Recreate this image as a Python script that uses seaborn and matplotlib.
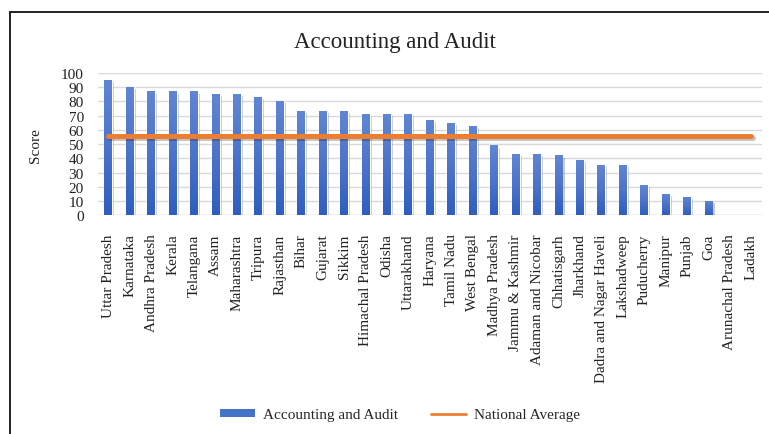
import matplotlib
matplotlib.use('Agg')
import matplotlib.pyplot as plt
import matplotlib.patheffects as pe
from matplotlib.lines import Line2D
from matplotlib.patches import Patch
from matplotlib.colors import LinearSegmentedColormap
import seaborn as sns
import pandas as pd
import numpy as np

# Datos del gráfico
estados = ['Uttar Pradesh', 'Karnataka', 'Andhra Pradesh', 'Kerala', 'Telangana', 'Assam',
           'Maharashtra', 'Tripura', 'Rajasthan', 'Bihar', 'Gujarat', 'Sikkim',
           'Himachal Pradesh', 'Odisha', 'Uttarakhand', 'Haryana', 'Tamil Nadu', 'West Bengal',
           'Madhya Pradesh', 'Jammu & Kashmir', 'Adaman and Nicobar', 'Chhatisgarh', 'Jharkhand',
           'Dadra and Nagar Haveli', 'Lakshadweep', 'Puducherry', 'Manipur', 'Punjab', 'Goa',
           'Arunachal Pradesh', 'Ladakh']
puntuacion = [95, 90, 87, 87, 87, 85, 85, 83, 80, 73, 73, 73, 71, 71, 71, 67, 65, 63,
              49, 43, 43, 42, 39, 35, 35, 21, 15, 13, 10, 0, 0]
media_nacional = 56

AZUL = '#4472C4'
NARANJA = '#ED7D31'
GRIS = '#D9D9D9'
degradado = LinearSegmentedColormap.from_list('azul', ['#2E5EBF', '#4C74CB', '#6085D2'])

df = pd.DataFrame({'Estado': estados, 'Score': puntuacion})
df['Media'] = media_nacional

sns.set_theme(style='white')
plt.rcParams['font.family'] = ['Liberation Serif', 'DejaVu Serif']

fig = plt.figure(figsize=(7.69, 4.35), dpi=100)
ax = fig.add_axes([0.127, 0.503, 0.864, 0.327])

sns.barplot(data=df, x='Estado', y='Score', color=AZUL, width=0.37, saturation=1, ax=ax, zorder=3)

# Degradado vertical dentro de cada barra (estilo Excel) + sombra suave
grad = np.linspace(0, 1, 100).reshape(-1, 1)
for barra in list(ax.patches):
    barra.set_path_effects([pe.SimplePatchShadow(offset=(1.5, -1.5), alpha=0.25), pe.Normal()])
    x0, y0 = barra.get_x(), barra.get_y()
    w, h = barra.get_width(), barra.get_height()
    if h <= 0:
        continue
    im = ax.imshow(grad, cmap=degradado, aspect='auto', origin='lower',
                   extent=(x0, x0 + w, y0, y0 + h), zorder=3.5)
    im.set_clip_path(barra)

ax.plot(range(len(df)), df['Media'], color=NARANJA, lw=3.6, solid_capstyle='round', zorder=4,
        path_effects=[pe.SimpleLineShadow(offset=(1, -1.5), alpha=0.25), pe.Normal()])

ax.set_ylim(0, 100)
ax.set_xlim(-0.5, len(df) - 0.5)
ax.set_yticks(range(0, 101, 10))
ax.grid(axis='y', color=GRIS, lw=1, zorder=0)
ax.set_axisbelow(True)
for s in ax.spines.values():
    s.set_visible(False)
ax.axhline(0, color=GRIS, lw=1, zorder=1)
ax.tick_params(axis='both', length=0, labelsize=11, colors='#222222')
ax.tick_params(axis='y', pad=10)
ax.tick_params(axis='x', pad=13)
plt.setp(ax.get_xticklabels(), rotation=90)
ax.set_xlabel('')
ax.set_ylabel('Score', fontsize=11, color='#222222')
ax.yaxis.set_label_coords(-0.084, 0.5)

fig.text(0.514, 0.903, 'Accounting and Audit', ha='center', va='center', fontsize=16.5, color='#222222')

manejadores = [Patch(facecolor=AZUL, edgecolor='none'),
               Line2D([0], [0], color=NARANJA, lw=2)]
fig.legend(manejadores, ['Accounting and Audit', 'National Average'], loc='center',
           bbox_to_anchor=(0.52, 0.044), ncol=2, frameon=False, fontsize=11,
           handlelength=2.3, handleheight=0.45, columnspacing=2.2, handletextpad=0.5)

# Marco del gráfico (borde izquierdo y superior)
fig.add_artist(Line2D([0.0124, 0.0124], [0, 0.970], color='#222222', lw=1.4, transform=fig.transFigure))
fig.add_artist(Line2D([0.0124, 1], [0.970, 0.970], color='#222222', lw=1.4, transform=fig.transFigure))

fig.savefig('out.png', dpi=100)
